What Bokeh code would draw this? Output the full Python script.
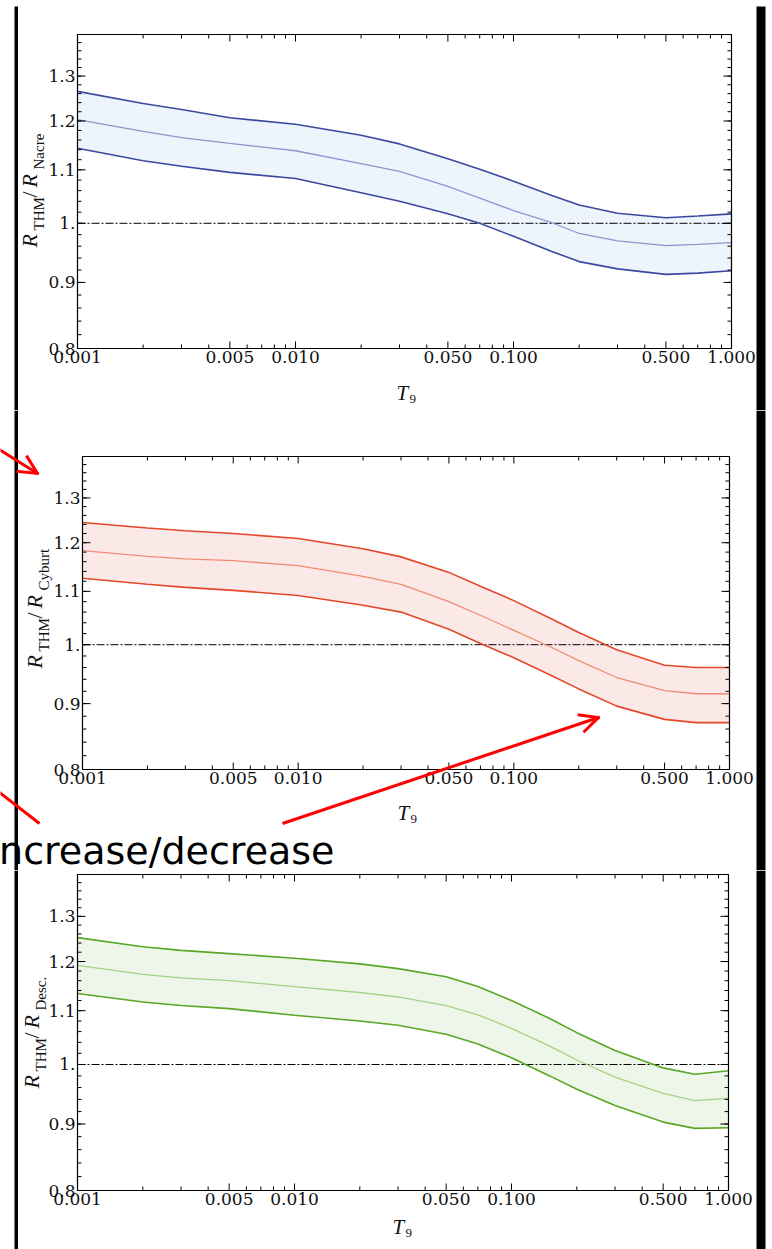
import math
from bokeh.plotting import figure
from bokeh.layouts import column
from bokeh.models import (LogAxis, FixedTicker, PrintfTickFormatter, Label,
                          PolyAnnotation, Range1d, LogScale)
from bokeh.embed import file_html
from bokeh.resources import INLINE

# ---- data: ratio of THM rate to three reference compilations vs T9 ----
T9 = [0.001, 0.002, 0.003, 0.005, 0.01, 0.02, 0.03, 0.05, 0.07, 0.1, 0.15, 0.2, 0.3, 0.5, 0.7, 1.0]

nacre_hi = [1.265, 1.238, 1.225, 1.207, 1.193, 1.170, 1.152, 1.122, 1.101, 1.078, 1.051, 1.033, 1.018, 1.010, 1.013, 1.017]
nacre_mid = [1.203, 1.178, 1.165, 1.153, 1.138, 1.112, 1.097, 1.068, 1.046, 1.023, 1.001, 0.982, 0.969, 0.961, 0.963, 0.966]
nacre_lo = [1.143, 1.118, 1.107, 1.095, 1.083, 1.056, 1.040, 1.017, 1.000, 0.977, 0.951, 0.934, 0.922, 0.913, 0.915, 0.919]

cyburt_hi = [1.244, 1.232, 1.226, 1.220, 1.209, 1.187, 1.170, 1.138, 1.110, 1.082, 1.047, 1.022, 0.991, 0.964, 0.960, 0.960]
cyburt_mid = [1.183, 1.171, 1.166, 1.162, 1.152, 1.130, 1.114, 1.080, 1.054, 1.026, 0.995, 0.972, 0.943, 0.921, 0.916, 0.916]
cyburt_lo = [1.126, 1.114, 1.108, 1.102, 1.092, 1.073, 1.060, 1.028, 1.002, 0.977, 0.946, 0.924, 0.896, 0.875, 0.870, 0.870]

desc_hi = [1.252, 1.232, 1.224, 1.217, 1.207, 1.195, 1.185, 1.168, 1.148, 1.120, 1.085, 1.058, 1.025, 0.994, 0.983, 0.989]
desc_mid = [1.192, 1.173, 1.166, 1.160, 1.148, 1.136, 1.127, 1.110, 1.092, 1.066, 1.033, 1.008, 0.978, 0.950, 0.938, 0.942]
desc_lo = [1.134, 1.117, 1.110, 1.104, 1.091, 1.080, 1.072, 1.055, 1.037, 1.012, 0.980, 0.957, 0.930, 0.903, 0.893, 0.894]

x_major = [0.001, 0.005, 0.01, 0.05, 0.1, 0.5, 1.0]
x_minor = [0.002, 0.003, 0.004, 0.006, 0.007, 0.008, 0.009,
           0.02, 0.03, 0.04, 0.06, 0.07, 0.08, 0.09,
           0.2, 0.3, 0.4, 0.6, 0.7, 0.8, 0.9]
y_major = [0.8, 0.9, 1.0, 1.1, 1.2, 1.3, 1.4]
y_major_text = ["0.8", "0.9", "1.", "1.1", "1.2", "1.3", ""]
y_minor = [round(0.8 + 0.02 * i, 2) for i in range(1, 30)]
unity = [1.0, 1.0]

X_LO, X_HI = x_major[0], x_major[-1]
Y_LO, Y_HI = y_major[0], y_major[-1]

SERIF = "DejaVu Serif"
MATH = "Liberation Serif"
PAGE_W = 772
DESC = 0.24   # baseline correction, as a fraction of the font size


def style_axis(ax, labels=True):
    ax.axis_line_color = "black"
    ax.axis_line_width = 1.2
    ax.major_tick_in = 0
    ax.major_tick_out = 0
    ax.minor_tick_in = 0
    ax.minor_tick_out = 0
    ax.major_label_text_font = SERIF
    if labels:
        ax.major_label_text_font_size = "17px"
        ax.major_label_text_color = "#111111"
        ax.major_label_standoff = 2
    else:
        ax.major_label_text_font_size = "0px"
        ax.major_label_text_color = None
        ax.major_label_standoff = 0
    ax.axis_label = None


def inward_ticks(p):
    """Mathematica-style ticks pointing into the box on all four sides."""
    tick = dict(length_units="screen", line_color="black", line_width=1)
    for vals, ln in ((x_major, 7), (x_minor, 4)):
        p.ray(x=vals, y=[Y_LO] * len(vals), length=ln, angle=math.pi / 2, **tick)
        p.ray(x=vals, y=[Y_HI] * len(vals), length=ln, angle=-math.pi / 2, **tick)
    for vals, ln in ((y_major, 8), (y_minor, 4)):
        p.ray(x=[X_LO] * len(vals), y=vals, length=ln, angle=0.0, **tick)
        p.ray(x=[X_HI] * len(vals), y=vals, length=ln, angle=math.pi, **tick)


def make_panel(canvas_h, bl, br, bt, bb, hi, mid, lo, line_c, mid_c, fill_c):
    """The frame fills the whole canvas; ranges are widened so that the
    [X_LO, X_HI] x [Y_LO, Y_HI] box lands on pixels bl..br, bt..bb."""
    px_dec = (br - bl) / math.log10(X_HI / X_LO)
    x0 = 10 ** (math.log10(X_LO) - bl / px_dec)
    x1 = 10 ** (math.log10(X_HI) + (PAGE_W - br) / px_dec)
    px_ln = (bb - bt) / math.log(Y_HI / Y_LO)
    y0 = Y_LO * math.exp(-(canvas_h - bb) / px_ln)
    y1 = Y_HI * math.exp(bt / px_ln)

    p = figure(width=PAGE_W, height=canvas_h, x_axis_type="log", y_axis_type="log",
               x_axis_location=None, y_axis_location=None,
               x_range=Range1d(x0, x1), y_range=Range1d(y0, y1),
               output_backend="svg", toolbar_location=None, min_border=0)
    p.x_scale = LogScale()
    p.y_scale = LogScale()
    p.grid.visible = False
    p.outline_line_color = None
    p.background_fill_color = "white"
    p.border_fill_color = "white"

    xt = FixedTicker(ticks=x_major, minor_ticks=x_minor)
    yt = FixedTicker(ticks=y_major, minor_ticks=y_minor)
    ylab = {v: t for v, t in zip(y_major, y_major_text)}

    bx = LogAxis(ticker=xt, formatter=PrintfTickFormatter(format="%.3f"),
                 fixed_location=Y_LO, bounds=(X_LO, X_HI))
    style_axis(bx)
    p.add_layout(bx, "below")
    tx = LogAxis(ticker=xt, fixed_location=Y_HI, bounds=(X_LO, X_HI))
    style_axis(tx, labels=False)
    p.add_layout(tx, "above")
    ly = LogAxis(ticker=yt, fixed_location=X_LO, bounds=(Y_LO, Y_HI),
                 major_label_overrides=ylab)
    style_axis(ly)
    p.add_layout(ly, "left")
    ry = LogAxis(ticker=yt, fixed_location=X_HI, bounds=(Y_LO, Y_HI))
    style_axis(ry, labels=False)
    p.add_layout(ry, "right")

    p.varea(x=T9, y1=lo, y2=hi, fill_color=fill_c)
    p.line([X_LO, X_HI], unity, line_color="black", line_width=1, line_dash="8 2 2 2")
    p.line(T9, mid, line_color=mid_c, line_width=1.3)
    p.line(T9, hi, line_color=line_c, line_width=1.6)
    p.line(T9, lo, line_color=line_c, line_width=1.6)
    inward_ticks(p)
    return p


def canvas_label(p, text, x, y, size, style="normal", font=MATH, angle=0.0,
                 align="left", color="#111111"):
    # x, y give the wanted baseline; shift the anchor by the descent
    if angle:
        x -= DESC * size
    else:
        y -= DESC * size
    p.add_layout(Label(x=x, y=y, x_units="canvas", y_units="canvas", text=text,
                       angle=angle, text_font=font, text_font_size=f"{size}px",
                       text_font_style=style, text_align=align,
                       text_baseline="alphabetic", text_color=color))


def ratio_label(p, name, xb, y0):
    a = math.pi / 2
    canvas_label(p, "R", xb, y0, 22, "italic", angle=a)
    canvas_label(p, "THM", xb + 8, y0 - 17, 15, angle=a)
    canvas_label(p, "/", xb, y0 - 50, 22, angle=a)
    canvas_label(p, "R", xb, y0 - 60, 22, "italic", angle=a)
    canvas_label(p, name, xb + 8, y0 - 78, 15, angle=a)


def t9_label(p, x, y):
    canvas_label(p, "T", x, y, 21, "italic")
    canvas_label(p, "9", x + 13, y + 4, 13)


def quad(p, xs, ys, color):
    p.add_layout(PolyAnnotation(xs=xs, ys=ys, xs_units="canvas", ys_units="canvas",
                                fill_color=color, fill_alpha=1.0, line_color=None))


def segment(p, x0, y0, x1, y1, w=3.0, color="#ff0000", ext=0.0):
    dx, dy = x1 - x0, y1 - y0
    L = math.hypot(dx, dy)
    ux, uy = dx / L, dy / L
    x1e, y1e = x1 + ux * ext, y1 + uy * ext
    nx, ny = -uy * w / 2, ux * w / 2
    quad(p, [x0 + nx, x1e + nx, x1e - nx, x0 - nx],
         [y0 + ny, y1e + ny, y1e - ny, y0 - ny], color)


def arrow(p, x0, y0, x1, y1, head=21, spread=26, w=3.0):
    segment(p, x0, y0, x1, y1, w)
    back = math.atan2(y0 - y1, x0 - x1)
    for s in (-1, 1):
        ang = back + s * math.radians(spread)
        segment(p, x1 + head * math.cos(ang), y1 + head * math.sin(ang), x1, y1, w, ext=1.2)


def side_bars(p, height, top=0):
    quad(p, [14, 17.5, 17.5, 14], [top, top, height, height], "black")
    quad(p, [756, 765, 765, 756], [top, top, height, height], "black")


# ---- panel 1: Nacre ----
p1 = make_panel(410, 77, 731, 34, 348, nacre_hi, nacre_mid, nacre_lo,
                "#3b49a0", "#8d96cf", "#edf4fc")
ratio_label(p1, "Nacre", 34, 247)
t9_label(p1, 396, 398)
side_bars(p1, 410, top=6)

# ---- panel 2: Cyburt, with the hand-drawn arrows ----
p2 = make_panel(460, 82, 729, 46, 359, cyburt_hi, cyburt_mid, cyburt_lo,
                "#e5472b", "#f18b75", "#fbe9e7")
ratio_label(p2, "Cyburt", 39, 258)
t9_label(p2, 397, 408)
side_bars(p2, 460)
arrow(p2, -6, 36, 37, 63)
segment(p2, -6, 378, 39, 413)
arrow(p2, 282, 413, 598, 307)
canvas_label(p2, "increase/decrease", 334, 450, 38, font="DejaVu Sans",
             align="right", color="black")

# ---- panel 3: Descouvemont ----
p3 = make_panel(379, 77, 728, 4, 320, desc_hi, desc_mid, desc_lo,
                "#5aa626", "#a5d287", "#eef6e9")
ratio_label(p3, "Desc.", 36, 218)
t9_label(p3, 392, 362)
side_bars(p3, 379)

layout = column(p1, p2, p3, spacing=0)
open("out.html", "w").write(file_html(layout, INLINE))
